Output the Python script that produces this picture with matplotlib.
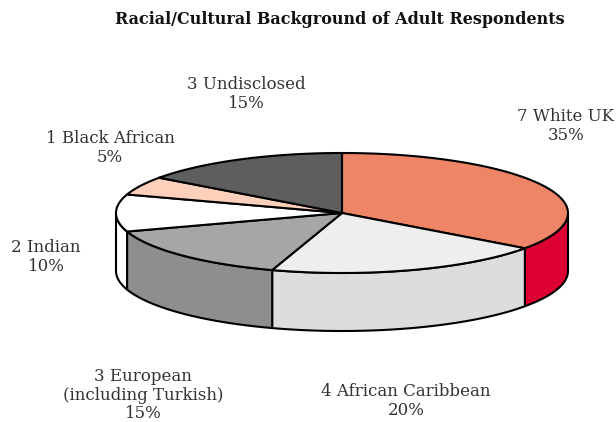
import numpy as np
import matplotlib
matplotlib.use('Agg')
import matplotlib.pyplot as plt
from matplotlib.patches import Polygon

# slices go clockwise from 12 o'clock
labels = ['7 White UK', '4 African Caribbean', '3 European\n(including Turkish)',
          '2 Indian', '1 Black African', '3 Undisclosed']
shares = [35, 20, 15, 10, 5, 15]
top_colors = ['#ee8566', '#eeeeee', '#a6a6a6', '#ffffff', '#fcd0bb', '#5e5e5e']
side_colors = ['#dd0033', '#dddddd', '#8e8e8e', '#ffffff', '#fcd0bb', '#5e5e5e']
label_pos = [(566, 126), (406, 401), (143, 395), (46, 257), (110, 148), (246, 94)]

cx, cy, rx, ry, depth = 342, 213, 226, 60, 58

fig = plt.figure(figsize=(6.16, 4.22), dpi=100)
ax = fig.add_axes([0, 0, 1, 1])
ax.set_xlim(0, 616)
ax.set_ylim(422, 0)
ax.axis('off')


def rim(a, b, n=80):
    t = np.radians(np.linspace(a, b, n))
    return cx + rx * np.sin(t), cy - ry * np.cos(t)


bounds = np.concatenate([[0], np.cumsum(shares)]) / sum(shares) * 360

# front wall pieces
for i in range(len(shares)):
    a, b = max(bounds[i], 90), min(bounds[i + 1], 270)
    if a >= b:
        continue
    x, y = rim(a, b)
    pts = np.column_stack([np.r_[x, x[::-1]], np.r_[y, y[::-1] + depth]])
    ax.add_patch(Polygon(pts, closed=True, fc=side_colors[i], ec='black', lw=1.5,
                         joinstyle='round'))

# top faces
for i in range(len(shares)):
    x, y = rim(bounds[i], bounds[i + 1])
    pts = np.column_stack([np.r_[cx, x], np.r_[cy, y]])
    ax.add_patch(Polygon(pts, closed=True, fc=top_colors[i], ec='black', lw=1.5,
                         joinstyle='round'))

for lab, s, (lx, ly) in zip(labels, shares, label_pos):
    ax.text(lx, ly, f'{lab}\n{s}%', ha='center', va='center', fontsize=12,
            family='DejaVu Serif', color='#333333', linespacing=1.1)

ax.text(340, 19, 'Racial/Cultural Background of Adult Respondents', ha='center',
        va='center', fontsize=11.5, fontweight='bold', family='DejaVu Serif',
        color='#111111')

fig.savefig('out.png', dpi=100)
